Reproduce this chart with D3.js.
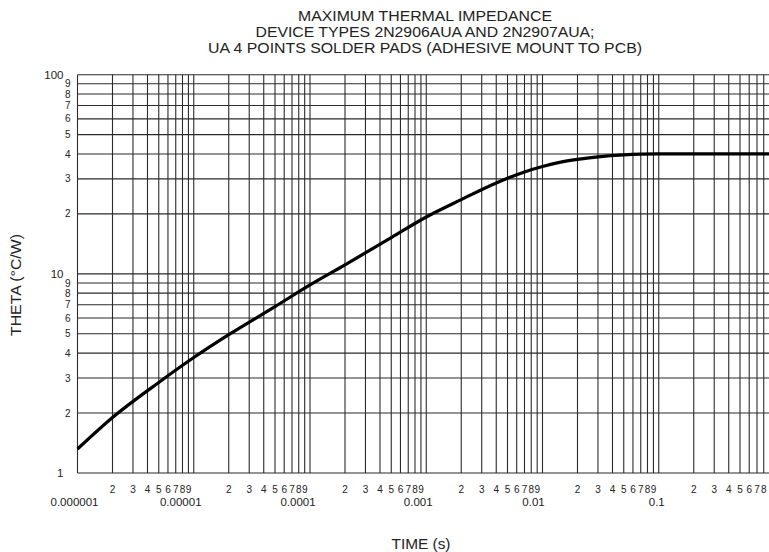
<!DOCTYPE html>
<html>
<head>
<meta charset="utf-8">
<script src="https://cdn.jsdelivr.net/npm/d3@7"></script>
<style>
  html, body { margin: 0; padding: 0; background: #fff; }
  svg { display: block; font-family: "Liberation Sans", Arial, sans-serif; }
</style>
</head>
<body>
<svg id="chart" width="769" height="552"></svg>
<script>
// Transient thermal impedance curve, time (s) vs theta (°C/W)
const titleLines = [
  "MAXIMUM THERMAL IMPEDANCE",
  "DEVICE TYPES 2N2906AUA AND 2N2907AUA;",
  "UA 4 POINTS SOLDER PADS (ADHESIVE MOUNT TO PCB)"
];
const xTitle = "TIME (s)";
const yTitle = "THETA (°C/W)";

const timeS = [1e-6, 2e-6, 5e-6, 1e-5, 2e-5, 5e-5, 1e-4, 2e-4, 5e-4, 1e-3,
               2e-3, 4e-3, 7e-3, 1e-2, 1.4e-2, 2e-2, 3e-2, 5e-2, 7e-2, 1e-1, 1];
const thetaCW = [1.32, 1.90, 2.85, 3.8, 4.95, 6.85, 8.8, 11.1, 15.2, 19.3,
                 23.6, 28.6, 32.5, 34.6, 36.3, 37.6, 38.7, 39.6, 39.9, 40, 40];

const xMajorLabels = ["0.000001", "0.00001", "0.0001", "0.001", "0.01", "0.1"];
const xMinorLabels = ["2", "3", "4", "5", "6", "7", "8", "9"];
const yMajorLabels = ["1", "10", "100"];
const yMinorLabels = ["2", "3", "4", "5", "6", "7", "8", "9"];

const svg = d3.select("#chart");
const W = 769, H = 552;

const x = d3.scaleLog().domain([1e-6, 1]).range([77.5, 775]);
const y = d3.scaleLog().domain([1, 100]).range([473, 74.7]);

const gridColor = "#2b2b2b";
const textColor = "#222";

// Title, three centred lines
const titleWidths = [254, 339, 434];
svg.append("g").selectAll("text").data(titleLines).join("text")
  .attr("x", 425).attr("y", (d, i) => 20.5 + i * 16)
  .attr("text-anchor", "middle")
  .attr("font-size", 14).attr("fill", textColor)
  .attr("textLength", (d, i) => titleWidths[i])
  .attr("lengthAdjust", "spacingAndGlyphs")
  .text(d => d);

const grid = svg.append("g");

// Vertical grid lines, every 1..9 of each decade
const xGridVals = [];
for (let e = -6; e <= 0; e++) for (let m = 1; m <= 9; m++) {
  const v = m * Math.pow(10, e);
  if (v <= 1) xGridVals.push(v);
}
grid.selectAll("line.vx").data(xGridVals).join("line")
  .attr("class", "vx")
  .attr("x1", d => x(d)).attr("x2", d => x(d))
  .attr("y1", y(100)).attr("y2", y(1))
  .attr("stroke", gridColor).attr("stroke-width", 1.1);

// Horizontal grid lines
const yGridVals = [];
for (let e = 0; e <= 1; e++) for (let m = 1; m <= 9; m++) yGridVals.push(m * Math.pow(10, e));
yGridVals.push(100);
grid.selectAll("line.hy").data(yGridVals).join("line")
  .attr("class", "hy")
  .attr("x1", x(1e-6)).attr("x2", W + 10)
  .attr("y1", d => y(d)).attr("y2", d => y(d))
  .attr("stroke", gridColor).attr("stroke-width", 1.1);

// X axis labels: minor digits in each decade, decade values below
const xMinor = [];
for (let e = -6; e <= -1; e++) xMinorLabels.forEach(s => xMinor.push({ s, v: +s * Math.pow(10, e) }));
svg.append("g").selectAll("text").data(xMinor.filter(d => x(d.v) < W)).join("text")
  .attr("x", d => x(d.v)).attr("y", 492.5)
  .attr("text-anchor", "middle").attr("font-size", 10).attr("fill", textColor)
  .text(d => d.s);

const xMajorDx = [-3, -13, -12, -8, -9, -2];
svg.append("g").selectAll("text").data(xMajorLabels).join("text")
  .attr("x", (d, i) => x(+d) + xMajorDx[i]).attr("y", 505.5)
  .attr("text-anchor", "middle").attr("font-size", 11.5).attr("fill", textColor)
  .text(d => d);

// Y axis labels
svg.append("g").selectAll("text").data(yMajorLabels).join("text")
  .attr("x", 63.5).attr("y", d => y(+d)).attr("dy", "0.36em")
  .attr("text-anchor", "end").attr("font-size", 11.5).attr("fill", textColor)
  .text(d => d);

const yMinor = [];
for (let e = 0; e <= 1; e++) yMinorLabels.forEach(s => yMinor.push({ s, v: +s * Math.pow(10, e) }));
svg.append("g").selectAll("text").data(yMinor).join("text")
  .attr("x", 70.5).attr("y", d => y(d.v)).attr("dy", "0.36em")
  .attr("text-anchor", "end").attr("font-size", 10).attr("fill", textColor)
  .text(d => d.s);

// Axis titles
svg.append("text")
  .attr("x", 421).attr("y", 549)
  .attr("text-anchor", "middle").attr("font-size", 14).attr("fill", textColor)
  .attr("textLength", 59).attr("lengthAdjust", "spacingAndGlyphs")
  .text(xTitle);

svg.append("text")
  .attr("transform", "translate(21,285) rotate(-90)")
  .attr("text-anchor", "middle").attr("font-size", 14).attr("fill", textColor)
  .attr("textLength", 102).attr("lengthAdjust", "spacingAndGlyphs")
  .text(yTitle);

// Thermal impedance curve
const line = d3.line()
  .x(d => x(d[0])).y(d => y(d[1]))
  .curve(d3.curveMonotoneX);
svg.append("path")
  .datum(timeS.map((t, i) => [t, thetaCW[i]]))
  .attr("d", line)
  .attr("fill", "none").attr("stroke", "#000").attr("stroke-width", 3.2)
  .attr("stroke-linejoin", "round");
</script>
</body>
</html>
